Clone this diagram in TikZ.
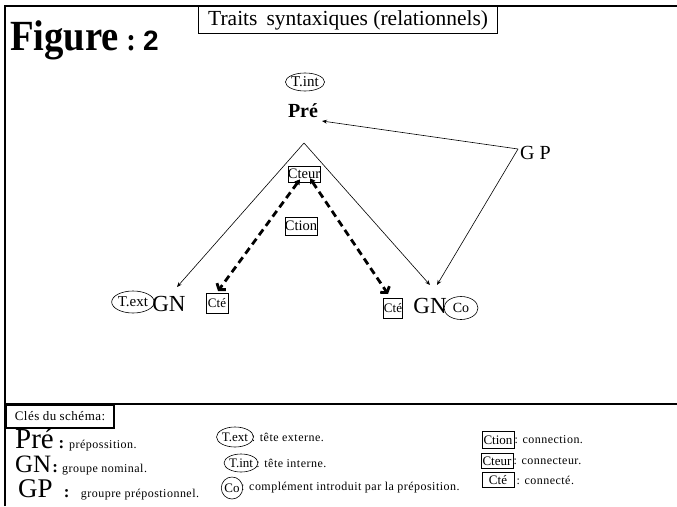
\documentclass[tikz,border=0pt]{standalone}
\usepackage{fontspec}
\setmainfont{Liberation Serif}
\newfontfamily\lgfont[LetterSpace=4]{Liberation Serif}
\newfontfamily\condfont[FakeStretch=0.9]{Liberation Serif}
\newfontfamily\sansbf{Liberation Sans}
\usetikzlibrary{shapes.geometric,arrows.meta}
\newcommand\fsz[1]{\fontsize{#1}{#1}\selectfont}
\begin{document}
\begin{tikzpicture}[x=1pt,y=-1pt,
  thinarrow/.style={draw, line width=0.6pt, -{Stealth[length=5pt,width=4pt]}},
  dasharrow/.style={draw, line width=2.8pt, dash pattern=on 7pt off 4.5pt,
     {Triangle[length=5pt,width=6pt]}-{Straight Barb[length=4pt,width=11pt]}},
  oval/.style={ellipse, draw, line width=0.6pt, inner sep=0pt},
  sq/.style={rectangle, draw, line width=0.7pt, inner sep=0pt},
  lab/.style={inner sep=0pt},
  frameline/.style={line width=2pt}
]
\useasboundingbox (0,0) rectangle (677,506);
% frame
\draw[frameline] (5,506) -- (5,6) -- (677,6);
\draw[frameline] (5,404) -- (677,404);
% heading
\node[lab, anchor=base west] (fig) at (10,50)
  {\condfont\bfseries\fsz{43}Figure\,{\fsz{32}:}\,{\sansbf\bfseries\fsz{28}2}};
\node[sq, line width=1.2pt, anchor=north west, minimum width=299, minimum height=27] (title) at (198,6)
  {\fsz{21.5}Traits\,\ syntaxiques (relationnels)};
% diagram
\node[oval, minimum width=36, minimum height=18] (tint) at (305,82) {\fsz{15}T.int};
\node[lab] (pre) at (303,111) {\bfseries\fsz{20}Pré};
\coordinate (apex) at (304,143);
\node[lab, anchor=west] (gp) at (520,153) {\fsz{20}G P};
\coordinate (gpv) at (518,149);
\node[sq, minimum width=31, minimum height=16] (cteur) at (304,174) {\fsz{14.5}Cteur};
\node[sq, minimum width=31, minimum height=18] (ction) at (301,226) {\fsz{14.5}Ction};
\node[oval, minimum width=36, minimum height=22] (text) at (133,302) {\fsz{15}T.ext};
\node[lab] (gnl) at (169,304) {\fsz{23}GN};
\node[sq, minimum width=22, minimum height=20] (ctel) at (217,303) {\fsz{13}Cté};
\node[sq, minimum width=19, minimum height=20] (cter) at (393,308) {\fsz{13}Cté};
\node[lab] (gnr) at (430,306) {\fsz{23}GN};
\node[oval, minimum width=34, minimum height=23] (co) at (461,308) {\fsz{14}Co};
\coordinate (gnlin) at (177,287);
\coordinate (gnrin) at (430,285);
\coordinate (gnrgp) at (437,285);
\coordinate (prein) at (322,121);
\coordinate (dl) at (218,291);
\coordinate (dr) at (388,294);
\draw[thinarrow] (apex) -- (gnlin);
\draw[thinarrow] (apex) -- (gnrin);
\draw[thinarrow] (gpv) -- (gnrgp);
\draw[thinarrow] (gpv) -- (prein);
\draw[dasharrow] ([xshift=-4pt,yshift=3pt]cteur.south) -- (dl);
\draw[dasharrow] ([xshift=6pt,yshift=4pt]cteur.south) -- (dr);
% legend
\node[draw, line width=1.5pt, anchor=north west, minimum height=23, text width=98pt,
  inner xsep=5pt, inner ysep=0pt, align=left] (keys) at (5,404) {\hspace*{4pt}\lgfont\fsz{13}Clés du schéma:};
\node[lab, anchor=base west] (lpre) at (15,448)
  {\fsz{29}Pré\,{\bfseries\fsz{17}:}\,{\lgfont\fsz{12}prépossition.}};
\node[lab, anchor=base west] (lgn) at (15,472)
  {\fsz{25}GN\hspace{1pt}{\bfseries\fsz{17}:}\,{\lgfont\fsz{12}groupe nominal.}};
\node[lab, anchor=base west] (lgp) at (18,497)
  {\fsz{27}GP\ \,{\bfseries\fsz{17}:}\ \,{\lgfont\fsz{12}groupre prépostionnel.}};
\node[oval, minimum width=32, minimum height=20] (ltext) at (235,437) {\fsz{13}T.ext};
\node[lab, anchor=west] (ltextd) at ([xshift=-2pt]ltext.east) {\lgfont\fsz{12}: tête externe.};
\node[oval, minimum width=33, minimum height=18] (ltint) at (241,463) {\fsz{13}T.int};
\node[lab, anchor=west] (ltintd) at ([xshift=-2pt]ltint.east) {\lgfont\fsz{12}: tête interne.};
\node[oval, minimum width=17, minimum height=22] (lco) at (232,488) {\fsz{13}Co};
\node[lab, anchor=west] (lcod) at ([xshift=-2pt]lco.east) {\lgfont\fsz{12}: complément introduit par la préposition.};
\node[sq, minimum width=32, minimum height=17] (lction) at (498,440) {\fsz{13}Ction};
\node[lab, anchor=west] (lctiond) at (lction.east) {\lgfont\fsz{12}: connection.};
\node[sq, minimum width=32, minimum height=15] (lcteur) at (497,461) {\fsz{13}Cteur};
\node[lab, anchor=west] (lcteurd) at (lcteur.east) {\lgfont\fsz{12}: connecteur.};
\node[sq, minimum width=32, minimum height=15, inner xsep=2pt] (lcte) at (498,480) {\fsz{13}Cté\hspace{9pt}};
\node[lab, anchor=west] (lcted) at ([xshift=2pt]lcte.east) {\lgfont\fsz{12}: connecté.};
\end{tikzpicture}
\end{document}
